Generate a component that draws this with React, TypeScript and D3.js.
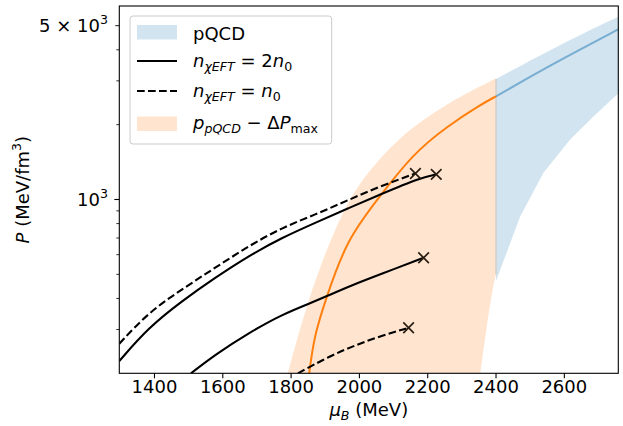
import React from 'react'
import * as d3 from 'd3'

// chi-EFT matched curves, [mu_B (MeV), P (MeV/fm^3)]
const solidHigh: [number, number][] = [
  [1297, 224], [1382, 305], [1480, 390], [1578, 485], [1675, 592],
  [1773, 702], [1871, 806], [1966, 921], [2061, 1047], [2178, 1222], [2225, 1262],
]
const dashedHigh: [number, number][] = [
  [1297, 263], [1382, 351], [1480, 435], [1578, 532], [1675, 649],
  [1773, 770], [1871, 870], [1966, 993], [2061, 1131], [2164, 1272],
]
const solidLow: [number, number][] = [
  [1507, 200], [1578, 238], [1675, 290], [1773, 345], [1871, 390],
  [1905, 409], [1983, 455], [2061, 500], [2188, 583],
]
const dashedLow: [number, number][] = [
  [1820, 200], [1914, 235], [1990, 260], [2061, 282], [2144, 305],
]
const crossPoints: [number, number][] = [
  [2225, 1262], [2164, 1272], [2188, 583], [2144, 305],
]

// p_pQCD - Delta P_max band and its central line
const bandUpper: [number, number][] = [
  [1790, 200], [1836, 340], [1885, 540], [1958, 955], [2031, 1320],
  [2110, 1742], [2207, 2195], [2300, 2620], [2400, 3070],
]
const bandLower: [number, number][] = [
  [2354, 200], [2372, 305], [2390, 440], [2400, 500],
]
const centralLine: [number, number][] = [
  [1853, 200], [1868, 285], [1904, 407], [1963, 687], [2051, 995],
  [2158, 1534], [2256, 1964], [2353, 2400], [2400, 2600],
]

// pQCD band and its central line
const pqcdUpper: [number, number][] = [[2400, 3050], [2580, 4150], [2760, 5450]]
const pqcdLower: [number, number][] = [
  [2400, 470], [2471, 857], [2539, 1280], [2617, 1742], [2686, 2162], [2760, 2690],
]
const pqcdLine: [number, number][] = [[2400, 2600], [2500, 3115], [2590, 3650], [2760, 4850]]

const xTicks = [1400, 1600, 1800, 2000, 2200, 2400, 2600]
const yMinor = [300, 400, 500, 600, 700, 800, 900, 2000, 3000, 4000]

const W = 623
const H = 426
const left = 119.3, right = 618.3, top = 6, bottom = 373.3
const font = 'DejaVu Sans'

export default function App() {
  const x = d3.scaleLinear().domain([1297, 2758]).range([left, right])
  const y = d3.scaleLog().domain([200, 6000]).range([bottom, top])

  const line = d3.line<[number, number]>()
    .x(d => x(d[0])).y(d => y(d[1]))
    .curve(d3.curveBasis)
  const straight = d3.line<[number, number]>()
    .x(d => x(d[0])).y(d => y(d[1]))

  const band = (up: [number, number][], upGen: any, lo: [number, number][], loGen: any) =>
    upGen(up) + 'L' + loGen([...lo].reverse()).slice(1) + 'Z'

  const orangeArea = band(bandUpper, line, bandLower, line)
  const blueArea = band(pqcdUpper, line, pqcdLower, straight)

  const x24 = x(2400)
  const stripTop = y(Math.min(bandUpper[bandUpper.length - 1][1], pqcdUpper[0][1]))
  const stripBot = y(Math.max(bandLower[bandLower.length - 1][1], pqcdLower[0][1]))

  const dash = '7.7,3.3'
  const sub = 12.6

  return (
    <svg width={W} height={H} style={{ position: 'absolute', left: 0, top: 0, background: '#fff' }}
      fontFamily={font}>
      <defs>
        <clipPath id="plot">
          <rect x={left} y={top} width={right - left} height={bottom - top} />
        </clipPath>
      </defs>
      <g clipPath="url(#plot)">
        <path d={blueArea} fill="#1f77b4" fillOpacity={0.2} />
        <path d={orangeArea} fill="#ff7f0e" fillOpacity={0.2} />
        <line x1={x24} x2={x24} y1={stripTop} y2={stripBot} stroke="#d2cfca" strokeWidth={1.5} />
        <path d={line(pqcdLine)!} fill="none" stroke="#1f77b4" strokeOpacity={0.5} strokeWidth={2} />
        <path d={line(centralLine)!} fill="none" stroke="#ff7f0e" strokeWidth={2} />
        <path d={line(solidHigh)!} fill="none" stroke="#000" strokeWidth={2.1} />
        <path d={line(dashedHigh)!} fill="none" stroke="#000" strokeWidth={2.1} strokeDasharray={dash} />
        <path d={line(solidLow)!} fill="none" stroke="#000" strokeWidth={2.1} />
        <path d={line(dashedLow)!} fill="none" stroke="#000" strokeWidth={2.1} strokeDasharray={dash} />
        {crossPoints.map((p, i) => {
          const cx = x(p[0]), cy = y(p[1]), r = 5.3
          return (
            <path key={i} d={`M${cx - r},${cy - r}L${cx + r},${cy + r}M${cx - r},${cy + r}L${cx + r},${cy - r}`}
              stroke="#2a1e12" strokeWidth={1.7} fill="none" />
          )
        })}
      </g>

      {/* frame */}
      <rect x={left} y={top} width={right - left} height={bottom - top} fill="none" stroke="#000" strokeWidth={1.1} />

      {/* x axis */}
      {xTicks.map(t => (
        <g key={t}>
          <line x1={x(t)} x2={x(t)} y1={bottom} y2={bottom + 5} stroke="#000" strokeWidth={1.1} />
          <text x={x(t)} y={393} fontSize={18} textAnchor="middle">{t}</text>
        </g>
      ))}
      <text x={(left + right) / 2} y={416} fontSize={18} textAnchor="middle" style={{ whiteSpace: 'pre' }}>
        <tspan fontStyle="italic">μ</tspan>
        <tspan fontStyle="italic" fontSize={sub} dy={4}>B</tspan>
        <tspan dy={-4}>{' (MeV)'}</tspan>
      </text>

      {/* y axis */}
      {yMinor.map(t => (
        <line key={t} x1={left} x2={left - 3} y1={y(t)} y2={y(t)} stroke="#000" strokeWidth={0.8} />
      ))}
      <line x1={left} x2={left - 5} y1={y(1000)} y2={y(1000)} stroke="#000" strokeWidth={1.1} />
      <line x1={left} x2={left - 4} y1={y(5000)} y2={y(5000)} stroke="#000" strokeWidth={0.9} />
      <text x={108} y={y(1000) + 6.5} fontSize={18} textAnchor="end">
        10<tspan fontSize={sub} dy={-8}>3</tspan>
      </text>
      <text x={108} y={y(5000) + 6.5} fontSize={18} textAnchor="end" style={{ whiteSpace: 'pre' }}>
        {'5 × 10'}<tspan fontSize={sub} dy={-8}>3</tspan>
      </text>
      <text transform={`translate(29,${(top + bottom) / 2}) rotate(-90)`} fontSize={18} textAnchor="middle"
        style={{ whiteSpace: 'pre' }}>
        <tspan fontStyle="italic">P</tspan>
        <tspan>{' (MeV/fm'}</tspan>
        <tspan fontSize={sub} dy={-8}>3</tspan>
        <tspan dy={8}>)</tspan>
      </text>

      {/* legend */}
      <rect x={130} y={16} width={201.7} height={128} rx={3} fill="#fff" fillOpacity={0.8}
        stroke="#cccccc" strokeWidth={1} />
      <rect x={137} y={25} width={40} height={14.5} fill="#1f77b4" fillOpacity={0.2} />
      <text x={193} y={39.5} fontSize={18}>pQCD</text>

      <line x1={137} x2={177} y1={61} y2={61} stroke="#000" strokeWidth={2.1} />
      <text x={193} y={67} fontSize={18} style={{ whiteSpace: 'pre' }}>
        <tspan fontStyle="italic">n</tspan>
        <tspan fontStyle="italic" fontSize={sub} dy={4}>χEFT</tspan>
        <tspan dy={-4}>{' = 2'}</tspan>
        <tspan fontStyle="italic">n</tspan>
        <tspan fontSize={sub} dy={4}>0</tspan>
      </text>

      <line x1={137} x2={177} y1={91} y2={91} stroke="#000" strokeWidth={2.1} strokeDasharray={dash} />
      <text x={193} y={97} fontSize={18} style={{ whiteSpace: 'pre' }}>
        <tspan fontStyle="italic">n</tspan>
        <tspan fontStyle="italic" fontSize={sub} dy={4}>χEFT</tspan>
        <tspan dy={-4}>{' = '}</tspan>
        <tspan fontStyle="italic">n</tspan>
        <tspan fontSize={sub} dy={4}>0</tspan>
      </text>

      <rect x={137} y={116.5} width={40} height={14.5} fill="#ff7f0e" fillOpacity={0.2} />
      <text x={193} y={128.5} fontSize={18} style={{ whiteSpace: 'pre' }}>
        <tspan fontStyle="italic">p</tspan>
        <tspan fontStyle="italic" fontSize={sub} dy={4}>pQCD</tspan>
        <tspan dy={-4}>{' − Δ'}</tspan>
        <tspan fontStyle="italic">P</tspan>
        <tspan fontSize={sub} dy={4}>max</tspan>
      </text>
    </svg>
  )
}
